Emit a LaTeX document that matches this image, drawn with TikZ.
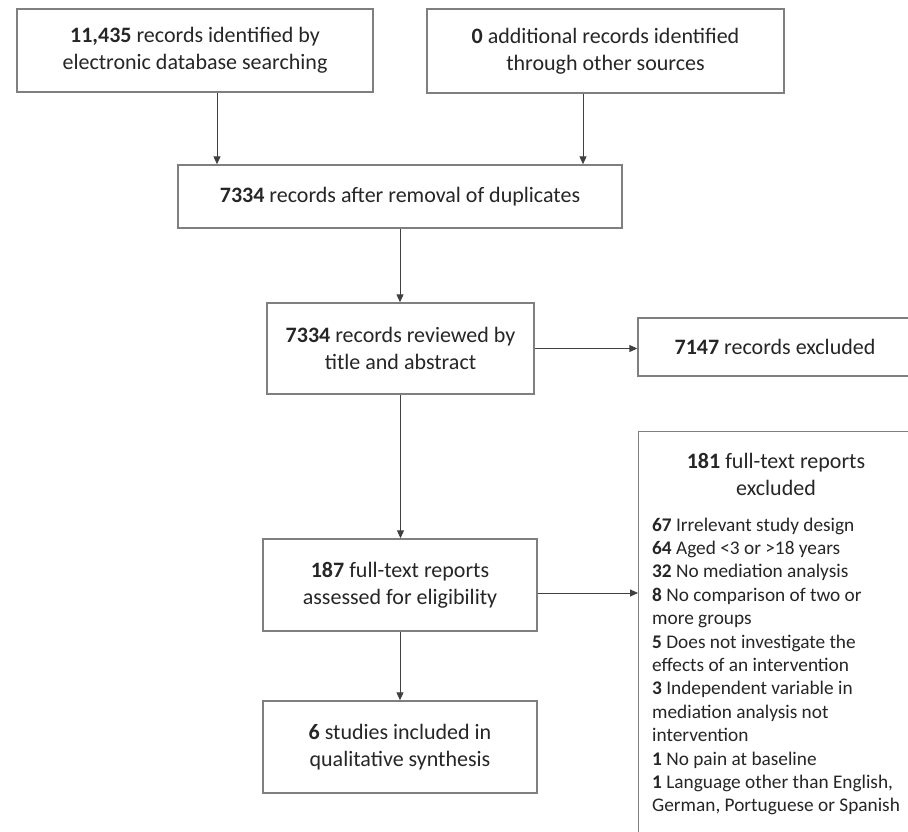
\documentclass[tikz,border=0pt]{standalone}
\usepackage{fontspec}
\setmainfont{Carlito}
\usetikzlibrary{arrows.meta,calc}
\definecolor{boxc}{HTML}{7F7F7F}
\definecolor{txt}{HTML}{262626}
\begin{document}
\begin{tikzpicture}[x=1pt,y=-1pt,
  box/.style={draw=boxc, line width=1.4pt, inner sep=0pt, align=center,
    font=\fontsize{22pt}{27pt}\selectfont, text=txt},
  listtext/.style={inner sep=0pt, align=left,
    font=\fontsize{19.3pt}{23.4pt}\selectfont, text=txt},
  arr/.style={draw=black!75, line width=1pt, -{Triangle[length=8pt,width=7pt]}}]
\useasboundingbox (0,0) rectangle (908,832);
\clip (0,0) rectangle (908,832);
\fill[white] (0,0) rectangle (908,832);

\node[box, minimum width=356pt, minimum height=83pt] (A) at (195,50.5)
  {\textbf{11,435} records identified by\\electronic database searching};
\node[box, minimum width=357pt, minimum height=84pt] (B) at (605.5,51)
  {\textbf{0} additional records identified\\through other sources};
\node[box, minimum width=444pt, minimum height=63pt] (C) at (400,196.5)
  {\textbf{7334} records after removal of duplicates};
\node[box, minimum width=267pt, minimum height=91pt] (D1) at (400.5,348.5)
  {\textbf{7334} records reviewed by\\title and abstract};
\node[box, minimum width=274pt, minimum height=58pt] (E) at (775,347)
  {\textbf{7147} records excluded};
\node[box, minimum width=276pt, minimum height=430pt, anchor=north west] (F) at (638,431) {};
\node[box, draw=none] (Ft) at (776,474.5) {\textbf{181} full-text reports\\excluded};
\node[listtext, anchor=north west] (Fl) at (652,517.5)
  {\textbf{67} Irrelevant study design\\
   \textbf{64} Aged <3 or >18 years\\
   \textbf{32} No mediation analysis\\
   \textbf{8} No comparison of two or\\
   more groups\\
   \textbf{5} Does not investigate the\\
   effects of an intervention\\
   \textbf{3} Independent variable in\\
   mediation analysis not\\
   intervention\\
   \textbf{1} No pain at baseline\\
   \textbf{1} Language other than English,\\
   German, Portuguese or Spanish};
\node[box, minimum width=274pt, minimum height=92pt] (D) at (400,585)
  {\textbf{187} full-text reports\\assessed for eligibility};
\node[box, minimum width=274pt, minimum height=92pt] (G) at (400,747)
  {\textbf{6} studies included in\\qualitative synthesis};

\coordinate (xa) at (217,0);
\coordinate (xb) at (583,0);
\coordinate (yf) at (0,593);
\draw[arr] (A.south -| xa) -- (C.north -| xa);
\draw[arr] (B.south -| xb) -- (C.north -| xb);
\draw[arr] (C.south) -- (C.south |- D1.north);
\draw[arr] (D1.east) -- (D1.east -| E.west);
\draw[arr] (D1.south) -- (D1.south |- D.north);
\draw[arr] (D.east |- yf) -- (F.west |- yf);
\draw[arr] (D.south) -- (G.north);
\end{tikzpicture}
\end{document}
